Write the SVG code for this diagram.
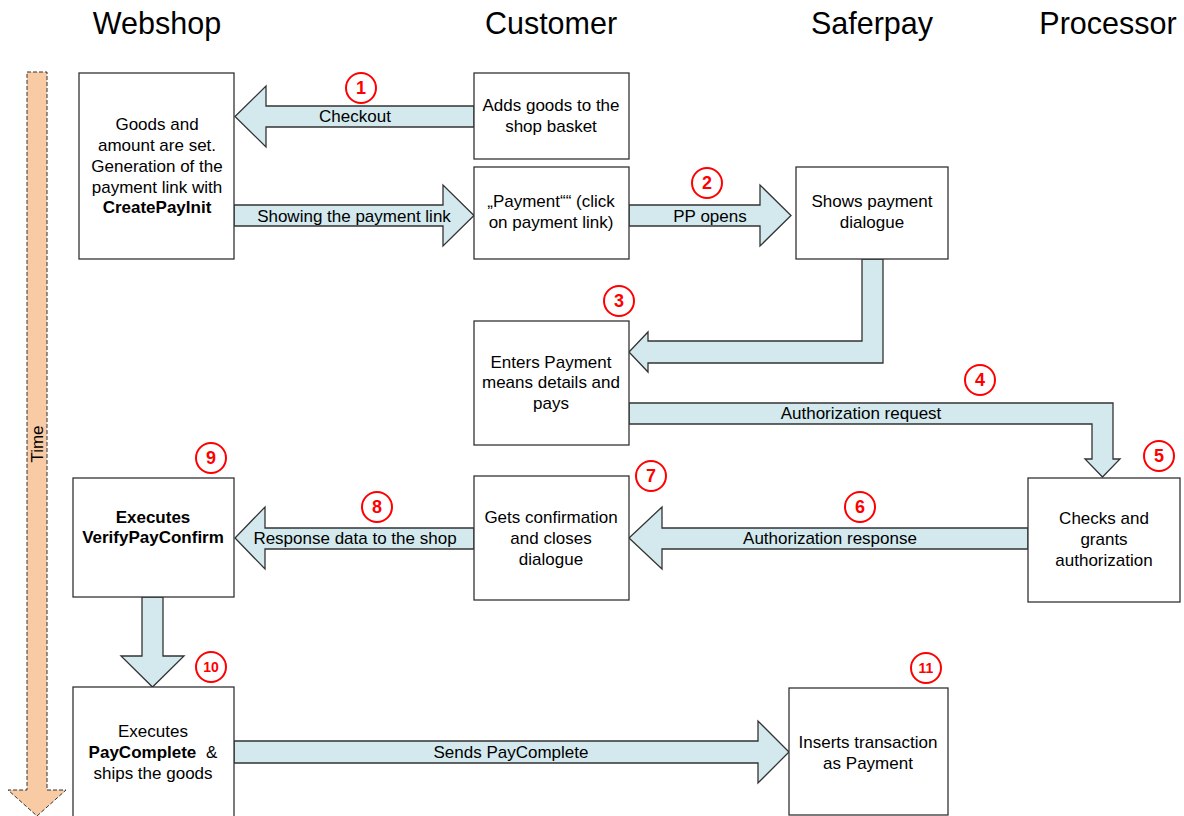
<svg xmlns="http://www.w3.org/2000/svg" width="1184" height="816" viewBox="0 0 1184 816">
<style>
text{font-family:"Liberation Sans",Arial,sans-serif;fill:#000}
.h{font-size:30.5px;text-anchor:middle}
.t{font-size:17px;text-anchor:middle}
.b{font-weight:bold}
.box{fill:#fff;stroke:#333;stroke-width:1.3}
.arr{fill:#D3E9EE;stroke:#333;stroke-width:1.3;stroke-linejoin:miter}
.num circle{fill:#fff;stroke:#f00;stroke-width:2}
.num text{font-size:18px;font-weight:bold;fill:#f00;text-anchor:middle}
.num text.s{font-size:14px}
</style>
<rect width="1184" height="816" fill="#fff"/>
<g id="headers">
<text class="h" x="157" y="34">Webshop</text>
<text class="h" x="551" y="34">Customer</text>
<text class="h" x="872" y="34">Saferpay</text>
<text class="h" x="1108" y="34">Processor</text>
</g>
<g id="time">
<polygon points="27,72 47,72 47,790 66,790 37,816 8,790 27,790" fill="#F9CBA5" stroke="#333" stroke-width="1" stroke-dasharray="4,2"/>
<text class="t" transform="translate(43,444) rotate(-90)">Time</text>
</g>
<g id="connectors">
<polygon class="arr" points="474,106 266,106 266,86 235,116.5 266,147 266,127 474,127"/>
<text class="t" x="355" y="122">Checkout</text>
<polygon class="arr" points="234,205 443,205 443,185 474,215.5 443,246 443,226 234,226"/>
<text class="t" x="354" y="222">Showing the payment link</text>
<polygon class="arr" points="629,205 760,205 760,185 791,215.5 760,246 760,226 629,226"/>
<text class="t" x="710" y="222">PP opens</text>
<polygon class="arr" points="862,259 883,259 883,363 648,363 648,372 629,352 648,332 648,341 862,341"/>
<polygon class="arr" points="629,403 1113,403 1113,459 1120,459 1102.5,477 1085,459 1092,459 1092,424 629,424"/>
<text class="t" x="861" y="419">Authorization request</text>
<polygon class="arr" points="1028,528 662,528 662,507 629,538 662,569 662,549 1028,549"/>
<text class="t" x="830" y="544">Authorization response</text>
<polygon class="arr" points="474,528 265,528 265,507 235,538 265,569 265,549 474,549"/>
<text class="t" x="355" y="544">Response data to the shop</text>
<polygon class="arr" points="142,597 163,597 163,656 184,656 152.5,687 121,656 142,656"/>
<polygon class="arr" points="234,741 758,741 758,721 789,752 758,783 758,763 234,763"/>
<text class="t" x="511" y="758">Sends PayComplete</text>
</g>
<g id="n-init">
<rect class="box" x="79" y="73" width="155" height="186"/>
<text class="t" x="157" y="130">Goods and</text>
<text class="t" x="157" y="151">amount are set.</text>
<text class="t" x="157" y="172">Generation of the</text>
<text class="t" x="157" y="193">payment link with</text>
<text class="t b" x="157" y="213">CreatePayInit</text>
</g>
<g id="n-basket">
<rect class="box" x="474" y="73" width="155" height="86"/>
<text class="t" x="551" y="111">Adds goods to the</text>
<text class="t" x="551" y="132">shop basket</text>
</g>
<g id="n-payment">
<rect class="box" x="474" y="167" width="155" height="92"/>
<text class="t" x="551" y="207">„Payment““ (click</text>
<text class="t" x="551" y="228">on payment link)</text>
</g>
<g id="n-dialogue">
<rect class="box" x="796" y="167" width="152" height="92"/>
<text class="t" x="872" y="207">Shows payment</text>
<text class="t" x="872" y="228">dialogue</text>
</g>
<g id="n-enters">
<rect class="box" x="474" y="321" width="155" height="124"/>
<text class="t" x="551" y="368">Enters Payment</text>
<text class="t" x="551" y="388">means details and</text>
<text class="t" x="551" y="409">pays</text>
</g>
<g id="n-checks">
<rect class="box" x="1028" y="478" width="152" height="124"/>
<text class="t" x="1104" y="524">Checks and</text>
<text class="t" x="1104" y="545">grants</text>
<text class="t" x="1104" y="566">authorization</text>
</g>
<g id="n-confirm">
<rect class="box" x="474" y="476" width="155" height="124"/>
<text class="t" x="551" y="523">Gets confirmation</text>
<text class="t" x="551" y="544">and closes</text>
<text class="t" x="551" y="565">dialogue</text>
</g>
<g id="n-verify">
<rect class="box" x="73" y="478" width="161" height="119"/>
<text class="t b" x="153" y="523">Executes</text>
<text class="t b" x="153" y="543">VerifyPayConfirm</text>
</g>
<g id="n-complete">
<rect class="box" x="73" y="687" width="161" height="140"/>
<text class="t" x="153" y="737">Executes</text>
<text class="t" x="153" y="758"><tspan class="b">PayComplete</tspan> <tspan dx="5">&amp;</tspan></text>
<text class="t" x="153" y="779">ships the goods</text>
</g>
<g id="n-insert">
<rect class="box" x="789" y="688" width="159" height="127"/>
<text class="t" x="868" y="748">Inserts transaction</text>
<text class="t" x="868" y="769">as Payment</text>
</g>
<g id="numbers" class="num">
<circle cx="361" cy="88" r="15"/><text x="361" y="94">1</text>
<circle cx="707" cy="183" r="15"/><text x="707" y="189">2</text>
<circle cx="619" cy="301" r="15"/><text x="619" y="307">3</text>
<circle cx="980" cy="380" r="15"/><text x="980" y="386">4</text>
<circle cx="1159" cy="456" r="15"/><text x="1159" y="462">5</text>
<circle cx="860" cy="507" r="15"/><text x="860" y="513">6</text>
<circle cx="651" cy="476" r="15"/><text x="651" y="482">7</text>
<circle cx="377" cy="507" r="15"/><text x="377" y="513">8</text>
<circle cx="211" cy="458" r="15"/><text x="211" y="464">9</text>
<circle cx="211" cy="667" r="15"/><text class="s" x="211" y="672">10</text>
<circle cx="926" cy="668" r="15"/><text class="s" x="926" y="673">11</text>
</g>
</svg>
